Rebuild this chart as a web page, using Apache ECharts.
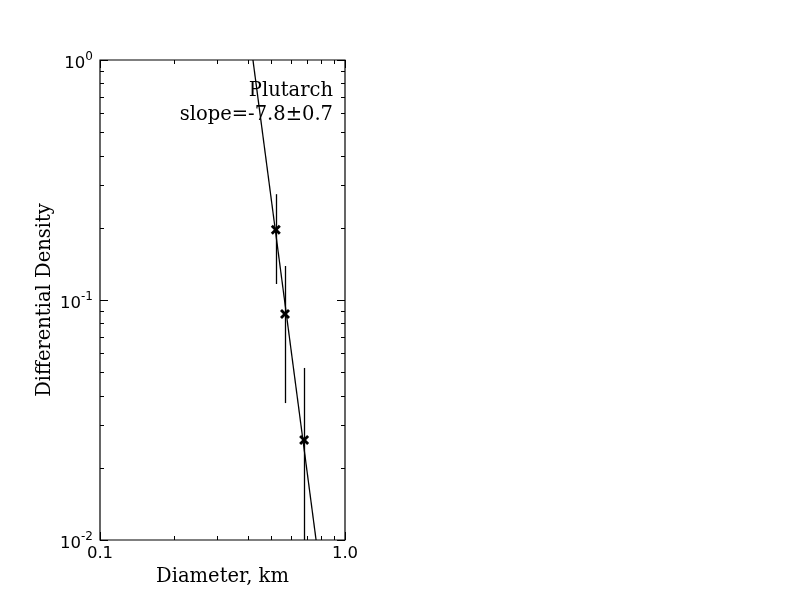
<!DOCTYPE html>
<html><head><meta charset="utf-8">
<script src="https://cdn.jsdelivr.net/npm/echarts@6/dist/echarts.min.js"></script>
<style>html,body{margin:0;padding:0;background:#fff}#c{width:800px;height:600px}</style>
</head><body><div id="c"></div>
<script>
const diameters = [0.522, 0.569, 0.681];
const densities = [0.196, 0.0874, 0.0261];
const errUpper = [0.276, 0.1386, 0.0521];
const errLower = [0.1166, 0.0372, 0.0100];
const fitX = [0.421, 0.762];
const fitY = [1.0, 0.01];
const xTickLabels = {0.1: '0.1', 1: '1.0'};
const yMajor = [0.01, 0.1, 1];
const xMajor = [0.1, 1];
const xMinor = [0.2,0.3,0.4,0.5,0.6,0.7,0.8,0.9];
const yMinor = [0.02,0.03,0.04,0.05,0.06,0.07,0.08,0.09,0.2,0.3,0.4,0.5,0.6,0.7,0.8,0.9];

const chart = echarts.init(document.getElementById('c'), null, {renderer:'canvas'});
const serif = 'DejaVu Serif';
const sans = 'DejaVu Sans';

function tickRender(isX){
  return function(params, api){
    const v = api.value(0), major = api.value(1) === 1;
    const cs = params.coordSys;
    const len = major ? 8 : 4;
    const style = {stroke:'#000', lineWidth:1};
    if (isX){
      const p = api.coord([v, 0.1]);
      const x = Math.round(p[0]) + 0.5;
      return {type:'group', children:[
        {type:'line', shape:{x1:x,y1:cs.y+cs.height,x2:x,y2:cs.y+cs.height-len}, style},
        {type:'line', shape:{x1:x,y1:cs.y,x2:x,y2:cs.y+len}, style}
      ]};
    } else {
      const p = api.coord([0.5, v]);
      const y = Math.round(p[1]) + 0.5;
      return {type:'group', children:[
        {type:'line', shape:{x1:cs.x,y1:y,x2:cs.x+len,y2:y}, style},
        {type:'line', shape:{x1:cs.x+cs.width,y1:y,x2:cs.x+cs.width-len,y2:y}, style}
      ]};
    }
  };
}

const xTickData = xMajor.map(v=>[v,1]).concat(xMinor.map(v=>[v,0]));
const yTickData = yMajor.map(v=>[v,1]).concat(yMinor.map(v=>[v,0]));
const pts = diameters.map((d,i)=>[d, densities[i], errLower[i], errUpper[i]]);

chart.setOption({
  animation:false,
  backgroundColor:'#fff',
  grid:{left:100, top:60, width:245, height:480, show:true, borderColor:'#000', borderWidth:1.2, backgroundColor:'transparent'},
  xAxis:{type:'log', logBase:10, min:0.1, max:1,
    name:'Diameter, km', nameLocation:'middle', nameGap:25,
    nameTextStyle:{fontFamily:serif, fontSize:19.5, color:'#000'},
    axisLine:{show:false}, axisTick:{show:false}, splitLine:{show:false},
    axisLabel:{fontFamily:sans, fontSize:16.5, color:'#000', margin:5,
      formatter:v=> xTickLabels[Math.round(v*10)/10] || ''}},
  yAxis:{type:'log', logBase:10, min:0.01, max:1,
    name:'Differential Density', nameLocation:'middle', nameGap:45,
    nameTextStyle:{fontFamily:serif, fontSize:19.5, color:'#000'},
    axisLine:{show:false}, axisTick:{show:false}, splitLine:{show:false},
    axisLabel:{margin:7, color:'#000',
      formatter:v=>{const e=Math.round(Math.log10(v)); return '{b|10}{s|'+e+'}';},
      rich:{b:{fontFamily:sans,fontSize:16.5,color:'#000',padding:[7,0,0,0]}, s:{fontFamily:sans,fontSize:12,color:'#000',verticalAlign:'top',padding:[3,0,0,0]}}}},
  graphic:[
    {type:'text', right:800-333, top:81, style:{text:'Plutarch', fontFamily:serif, fontSize:19.5, fill:'#000', textAlign:'right'}},
    {type:'text', right:800-333, top:105, style:{text:'slope=-7.8\u00b10.7', fontFamily:serif, fontSize:19.5, fill:'#000', textAlign:'right'}}
  ],
  series:[
    {type:'line', data:fitX.map((x,i)=>[x,fitY[i]]), symbol:'none', lineStyle:{color:'#000', width:1.3}, clip:true, z:3},
    {type:'custom', data:pts, clip:true, z:4,
      renderItem:function(params, api){
        const c = api.coord([api.value(0), api.value(1)]);
        const lo = api.coord([api.value(0), api.value(2)]);
        const hi = api.coord([api.value(0), api.value(3)]);
        const x = Math.round(c[0]) + 0.5;
        const s = 4;
        const st = {stroke:'#000', lineWidth:1.3};
        const mst = {stroke:'#000', lineWidth:2.8};
        return {type:'group', children:[
          {type:'line', shape:{x1:x,y1:lo[1],x2:x,y2:hi[1]}, style:st},
          {type:'line', shape:{x1:c[0]-s,y1:c[1]-s,x2:c[0]+s,y2:c[1]+s}, style:mst},
          {type:'line', shape:{x1:c[0]-s,y1:c[1]+s,x2:c[0]+s,y2:c[1]-s}, style:mst}
        ]};
      }},
    {type:'custom', data:xTickData, renderItem:tickRender(true), z:5, silent:true},
    {type:'custom', data:yTickData, renderItem:tickRender(false), z:5, silent:true}
  ]
});
</script></body></html>
